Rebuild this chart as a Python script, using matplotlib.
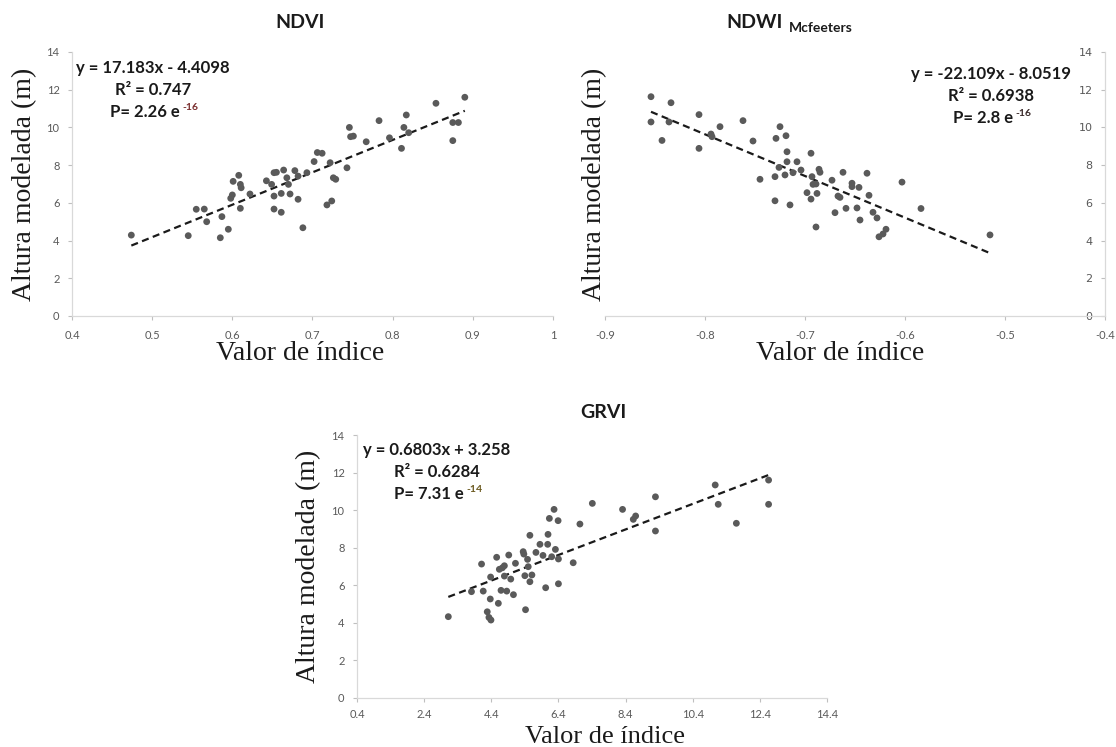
import matplotlib
matplotlib.use("Agg")
import matplotlib.pyplot as plt

# ---------------- data ----------------
ndvi_x = [0.474, 0.545, 0.555, 0.565, 0.568, 0.585, 0.587, 0.595, 0.598, 0.600,
          0.601, 0.608, 0.610, 0.611, 0.610, 0.622, 0.6425, 0.649, 0.652, 0.655,
          0.652, 0.652, 0.661, 0.661, 0.664, 0.668, 0.670, 0.672, 0.678, 0.682,
          0.682, 0.688, 0.693, 0.702, 0.706, 0.712, 0.722, 0.726, 0.729, 0.718,
          0.724, 0.743, 0.746, 0.7475, 0.751, 0.767, 0.783, 0.796, 0.811, 0.814,
          0.817, 0.820, 0.854, 0.875, 0.882, 0.875, 0.890]
ndvi_y = [4.29, 4.26, 5.66, 5.67, 5.00, 4.15, 5.27, 4.60, 6.24, 6.42,
          7.14, 7.46, 6.98, 6.80, 5.71, 6.47, 7.17, 6.98, 7.60, 7.62,
          6.36, 5.67, 6.50, 5.50, 7.74, 7.33, 6.98, 6.47, 7.71, 7.42,
          6.19, 4.68, 7.60, 8.19, 8.67, 8.63, 8.13, 7.33, 7.25, 5.89,
          6.10, 7.86, 10.00, 9.51, 9.54, 9.24, 10.36, 9.45, 8.89, 10.00,
          10.66, 9.72, 11.28, 10.26, 10.26, 9.30, 11.60]

ndwi_x = [-0.854, -0.834, -0.854, -0.836, -0.843, -0.806, -0.806, -0.794, -0.793, -0.785,
          -0.762, -0.752, -0.745, -0.729, -0.725, -0.719, -0.730, -0.730, -0.726, -0.720,
          -0.718, -0.718, -0.715, -0.712, -0.708, -0.704, -0.694, -0.693, -0.692, -0.689,
          -0.698, -0.694, -0.688, -0.689, -0.686, -0.685, -0.673, -0.670, -0.667, -0.665,
          -0.662, -0.659, -0.653, -0.653, -0.648, -0.646, -0.645, -0.638, -0.636, -0.632,
          -0.628, -0.626, -0.622, -0.619, -0.603, -0.584, -0.515]
ndwi_y = [11.63, 11.31, 10.29, 10.29, 9.31, 10.68, 8.89, 9.65, 9.51, 10.04,
          10.36, 9.28, 7.25, 9.42, 10.04, 9.56, 7.39, 6.11, 7.88, 7.48,
          8.71, 8.18, 5.89, 7.60, 8.18, 7.74, 8.63, 7.39, 6.98, 7.00,
          6.54, 6.20, 6.50, 4.72, 7.78, 7.62, 7.20, 5.48, 6.36, 6.29,
          7.62, 5.71, 7.04, 6.86, 5.73, 6.82, 5.09, 7.57, 6.40, 5.50,
          5.20, 4.20, 4.35, 4.60, 7.10, 5.70, 4.30]

grvi_x = [3.12, 4.11, 3.81, 4.16, 4.28, 4.33, 4.39, 4.37, 4.38, 4.56,
          4.61, 4.64, 4.73, 4.79, 4.79, 4.69, 4.86, 4.92, 4.98, 5.06,
          5.12, 5.35, 5.37, 5.40, 5.42, 5.48, 5.50, 5.55, 5.61, 5.55,
          5.73, 5.85, 5.94, 6.02, 6.08, 6.09, 6.13, 6.20, 6.27, 6.31,
          6.39, 6.40, 6.40, 6.84, 7.04, 7.41, 8.31, 8.63, 8.70, 9.29,
          9.29, 11.07, 11.16, 11.70, 12.66, 12.66]
grvi_y = [4.33, 7.13, 5.66, 5.69, 4.59, 4.29, 4.15, 5.27, 6.44, 7.49,
          5.04, 6.85, 6.93, 7.04, 6.49, 5.73, 5.69, 7.61, 6.33, 5.50,
          7.17, 7.79, 7.66, 6.51, 4.70, 7.38, 6.99, 6.19, 6.55, 8.66,
          7.75, 8.18, 7.59, 5.87, 8.18, 8.71, 9.56, 7.52, 10.04, 7.91,
          9.44, 7.40, 6.08, 7.20, 9.26, 10.36, 10.04, 9.51, 9.69, 10.71,
          8.89, 11.34, 10.31, 9.30, 11.60, 10.31]

ndvi_fit = (17.183, -4.4098)
ndwi_fit = (-22.109, -8.0519)
grvi_fit = (0.6803, 3.258)

ndvi_ticks = [0.4, 0.5, 0.6, 0.7, 0.8, 0.9, 1.0]
ndvi_ticklabels = ["0.4", "0.5", "0.6", "0.7", "0.8", "0.9", "1"]
ndwi_ticks = [-0.9, -0.8, -0.7, -0.6, -0.5, -0.4]
ndwi_ticklabels = ["-0.9", "-0.8", "-0.7", "-0.6", "-0.5", "-0.4"]
grvi_ticks = [0.4, 2.4, 4.4, 6.4, 8.4, 10.4, 12.4, 14.4]
grvi_ticklabels = ["0.4", "2.4", "4.4", "6.4", "8.4", "10.4", "12.4", "14.4"]
y_ticks = [0, 2, 4, 6, 8, 10, 12, 14]
y_ticklabels = ["0", "2", "4", "6", "8", "10", "12", "14"]

# ---------------- figure ----------------
W, H = 1116, 747
fig = plt.figure(figsize=(W / 100, H / 100), dpi=100)
fig.patch.set_facecolor("white")

SANS = ["Lato", "DejaVu Sans"]
SERIF = ["Liberation Serif", "DejaVu Serif"]
GRID = "#d9d9d9"
TICKC = "#595959"
PT = "#5a5a5a"


def fx(px):
    return px / W


def fy(py):
    return 1 - py / H


def px_axes(x0, x1, y0, y1):
    return fig.add_axes([x0 / W, 1 - y1 / H, (x1 - x0) / W, (y1 - y0) / H])


def style(ax, xt, xtl, xlim, xpad=7):
    ax.set_xlim(*xlim)
    ax.set_ylim(0, 14)
    ax.set_xticks(xt)
    ax.set_xticklabels(xtl)
    ax.set_yticks(y_ticks)
    ax.set_yticklabels(y_ticklabels)
    for s in ["top", "right"]:
        ax.spines[s].set_visible(False)
    for s in ["left", "bottom"]:
        ax.spines[s].set_color(GRID)
        ax.spines[s].set_linewidth(0.9)
    ax.tick_params(axis="both", direction="out", length=3, width=0.8,
                   color="#bfbfbf", labelcolor=TICKC, labelsize=8)
    ax.tick_params(axis="x", pad=xpad)
    ax.tick_params(axis="y", pad=6)
    for lab in ax.get_xticklabels() + ax.get_yticklabels():
        lab.set_family(SANS)
    ax.patch.set_alpha(0)


def draw(ax, x, y, fit):
    ax.scatter(x, y, s=24, color=PT, edgecolors="none", zorder=3)
    x0, x1 = min(x), max(x)
    m, b = fit
    ax.plot([x0, x1], [m * x0 + b, m * x1 + b], color="#1a1a1a", lw=1.6,
            ls=(0, (3.2, 2.0)), zorder=2)


def eqbox(ax, cx, y1, l1, l2, p_main, p_sup, sup_color):
    kw = dict(family=SANS, fontweight="bold", fontsize=12, color="#1a1a1a",
              va="center")
    fig.text(fx(cx), fy(y1), l1, ha="center", **kw)
    fig.text(fx(cx), fy(y1 + 22), l2, ha="center", **kw)
    t = fig.text(fx(cx - 8), fy(y1 + 44), p_main, ha="center", **kw)
    ax.annotate(p_sup, xy=(1, 1), xycoords=t, xytext=(2, 1),
                textcoords="offset points", ha="left", va="top",
                family=SANS, fontweight="bold", fontsize=7.5, color=sup_color,
                annotation_clip=False)


# NDVI
ax1 = px_axes(72, 553, 52, 316)
style(ax1, ndvi_ticks, ndvi_ticklabels, (0.4, 1.0))
draw(ax1, ndvi_x, ndvi_y, ndvi_fit)

# NDWI (vertical axis crosses at -0.4)
ax2 = px_axes(605, 1105, 52, 316)
style(ax2, ndwi_ticks, ndwi_ticklabels, (-0.9, -0.4))
ax2.spines["left"].set_position(("data", -0.4))
draw(ax2, ndwi_x, ndwi_y, ndwi_fit)

# GRVI
ax3 = px_axes(357, 827, 435, 698)
style(ax3, grvi_ticks, grvi_ticklabels, (0.4, 14.4), xpad=5)
draw(ax3, grvi_x, grvi_y, grvi_fit)

# equations
eqbox(ax1, 153, 68, "y = 17.183x - 4.4098", "R\u00b2 = 0.747", "P= 2.26 e", "-16", "#7a2e2e")
eqbox(ax2, 991, 74, "y = -22.109x - 8.0519", "R\u00b2 = 0.6938", "P= 2.8 e", "-16", "#3a2a2a")
eqbox(ax3, 437, 450, "y = 0.6803x + 3.258", "R\u00b2 = 0.6284", "P= 7.31 e", "-14", "#6b5a20")

# titles
tkw = dict(family=SANS, fontweight="bold", fontsize=14, color="#1a1a1a", va="center")
fig.text(fx(300), fy(22), "NDVI", ha="center", **tkw)
tn = fig.text(fx(783), fy(22), "NDWI", ha="right", **tkw)
ax2.annotate("Mcfeeters", xy=(1, 0.5), xycoords=tn, xytext=(4, -4),
             textcoords="offset points", ha="left", va="center",
             family=SANS, fontweight="bold", fontsize=10, color="#1a1a1a",
             annotation_clip=False)
fig.text(fx(603), fy(413), "GRVI", ha="center", **tkw)

# axis titles
lkw = dict(family=SERIF, fontsize=20, color="#1a1a1a", va="center", ha="center")
fig.text(fx(25), fy(184), "Altura modelada (m)", rotation=90, **lkw)
fig.text(fx(595), fy(184), "Altura modelada (m)", rotation=90, **lkw)
fig.text(fx(309), fy(566), "Altura modelada (m)", rotation=90, **lkw)
fig.text(fx(300), fy(354), "Valor de índice", **lkw)
fig.text(fx(840), fy(354), "Valor de índice", **lkw)
fig.text(fx(605), fy(743), "Valor de índice", family=SERIF, fontsize=19,
         color="#1a1a1a", va="baseline", ha="center")

fig.savefig("out.png", dpi=100, facecolor="white")
